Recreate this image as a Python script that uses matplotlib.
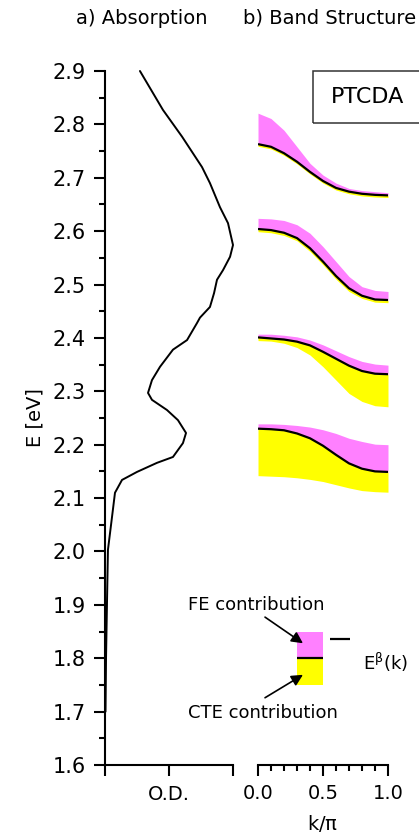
import matplotlib
matplotlib.use("Agg")
import matplotlib.pyplot as plt
from matplotlib.patches import Rectangle
from matplotlib.ticker import MultipleLocator

plt.rcParams['font.family'] = ['DejaVu Sans']
plt.rcParams['mathtext.default'] = 'regular'

# ---- data: a) absorption (O.D. vs energy) ----
abs_E = [2.90, 2.827, 2.777, 2.72, 2.69, 2.645, 2.615, 2.574, 2.552, 2.527,
         2.509, 2.484, 2.458, 2.438, 2.428, 2.396, 2.378, 2.346, 2.321, 2.297,
         2.284, 2.265, 2.246, 2.222, 2.203, 2.177, 2.166, 2.149, 2.134, 2.110,
         2.065, 2.003, 1.91, 1.80, 1.70]
abs_OD = [0.273, 0.453, 0.602, 0.758, 0.820, 0.898, 0.961, 1.0, 0.977, 0.922,
          0.875, 0.852, 0.820, 0.742, 0.719, 0.641, 0.531, 0.430, 0.367, 0.336,
          0.367, 0.484, 0.570, 0.633, 0.609, 0.531, 0.406, 0.25, 0.133, 0.078,
          0.055, 0.023, 0.016, 0.008, 0.004]

# ---- data: b) band structure ----
k = [0.0, 0.1, 0.2, 0.3, 0.4, 0.5, 0.6, 0.7, 0.8, 0.9, 1.0]

band1_top = [2.821, 2.811, 2.789, 2.758, 2.727, 2.705, 2.690, 2.680, 2.676, 2.674, 2.672]
band1_E   = [2.763, 2.758, 2.746, 2.730, 2.711, 2.694, 2.681, 2.674, 2.670, 2.668, 2.667]
band1_bot = [2.759, 2.754, 2.742, 2.726, 2.707, 2.690, 2.677, 2.670, 2.666, 2.664, 2.663]

band2_top = [2.624, 2.623, 2.620, 2.612, 2.596, 2.571, 2.543, 2.515, 2.496, 2.489, 2.487]
band2_E   = [2.604, 2.602, 2.597, 2.587, 2.568, 2.543, 2.516, 2.493, 2.479, 2.472, 2.471]
band2_bot = [2.599, 2.597, 2.592, 2.582, 2.562, 2.537, 2.510, 2.487, 2.474, 2.467, 2.466]

band3_top = [2.407, 2.407, 2.405, 2.402, 2.396, 2.387, 2.376, 2.365, 2.356, 2.351, 2.349]
band3_E   = [2.401, 2.399, 2.397, 2.393, 2.386, 2.374, 2.361, 2.348, 2.338, 2.333, 2.332]
band3_bot = [2.395, 2.394, 2.390, 2.382, 2.368, 2.346, 2.321, 2.296, 2.281, 2.273, 2.271]

band4_top = [2.239, 2.239, 2.238, 2.236, 2.233, 2.228, 2.221, 2.212, 2.206, 2.201, 2.200]
band4_E   = [2.230, 2.229, 2.227, 2.221, 2.212, 2.198, 2.181, 2.165, 2.155, 2.150, 2.149]
band4_bot = [2.142, 2.141, 2.140, 2.138, 2.135, 2.131, 2.125, 2.119, 2.114, 2.112, 2.111]

bands = [(band1_top, band1_E, band1_bot),
         (band2_top, band2_E, band2_bot),
         (band3_top, band3_E, band3_bot),
         (band4_top, band4_E, band4_bot)]

# legend key
key_k = [0.3, 0.5]
key_top, key_E, key_bot = 1.85, 1.80, 1.75

PINK = '#FF80FF'
YELLOW = '#FFFF00'
W, H = 419, 832

fig = plt.figure(figsize=(W / 100, H / 100), dpi=100)

def fx(px):
    return px / W

def fy(py):
    return 1 - py / H

y_bottom, y_top = 765, 71
ax1 = fig.add_axes([fx(105), fy(y_bottom), fx(233) - fx(105), fy(y_top) - fy(y_bottom)])
ax2 = fig.add_axes([fx(258), fy(y_bottom), fx(388) - fx(258), fy(y_top) - fy(y_bottom)])

LW = 1.5
for ax in (ax1, ax2):
    ax.set_ylim(1.6, 2.9)
    ax.patch.set_alpha(0)
    for s in ('top', 'right'):
        ax.spines[s].set_visible(False)
    for s in ('left', 'bottom'):
        ax.spines[s].set_linewidth(LW)
    ax.tick_params(which='major', direction='out', length=8, width=LW, labelsize=14, pad=6)
    ax.tick_params(which='minor', direction='out', length=4.3, width=LW)

# ---- panel a ----
ax1.plot(abs_OD, abs_E, color='black', lw=1.4, clip_on=False,
         solid_joinstyle='round', solid_capstyle='round')
ax1.set_xlim(0, 1)
ax1.set_xticks([0, 0.5, 1.0])
ax1.set_xticklabels([])
ax1.yaxis.set_minor_locator(MultipleLocator(0.05))
ax1.set_yticks([1.6 + 0.1 * i for i in range(14)])
ax1.set_yticklabels([f"{1.6 + 0.1 * i:.1f}" for i in range(14)])
ax1.tick_params(axis='y', which='major', labelsize=15)

# ---- panel b ----
ax2.set_xlim(0, 1)
ax2.spines['left'].set_visible(False)
ax2.set_yticks([])
ax2.xaxis.set_minor_locator(MultipleLocator(0.1))
ax2.set_xticks([0.0, 0.5, 1.0])
ax2.set_xticklabels(['0.0', '0.5', '1.0'])

for top, mid, bot in bands:
    ax2.fill_between(k, bot, mid, color=YELLOW, lw=0)
    ax2.fill_between(k, mid, top, color=PINK, lw=0)
    ax2.plot(k, mid, color='black', lw=1.6, solid_capstyle='butt',
             solid_joinstyle='round')

# key
ax2.fill_between(key_k, [key_bot] * 2, [key_E] * 2, color=YELLOW, lw=0)
ax2.fill_between(key_k, [key_E] * 2, [key_top] * 2, color=PINK, lw=0)
ax2.plot(key_k, [key_E] * 2, color='black', lw=1.6, solid_capstyle='butt')
ax2.plot([0.554, 0.708], [1.836, 1.836], color='black', lw=1.6, solid_capstyle='butt',
         clip_on=False)
ax2.text(0.81, 1.793, r'E$^{\beta}$(k)', fontsize=13, ha='left', va='center', clip_on=False)

ax2.text(-0.015, 1.900, 'FE contribution', fontsize=13, ha='center', va='center')
ax2.text(0.04, 1.698, 'CTE contribution', fontsize=13, ha='center', va='center')
arrow = dict(arrowstyle='-|>', color='black', lw=1.2, mutation_scale=17,
             shrinkA=0, shrinkB=0)
ax2.annotate('', xy=(0.346, 1.828), xytext=(0.054, 1.877), arrowprops=arrow,
             annotation_clip=False)
ax2.annotate('', xy=(0.346, 1.769), xytext=(0.054, 1.726), arrowprops=arrow,
             annotation_clip=False)

# PTCDA box
ax2.add_patch(Rectangle((0.423, 2.803), 1.2, 0.097, fill=False, ec='#333333', lw=1.1,
                        clip_on=False))
ax2.text(0.846, 2.851, 'PTCDA', fontsize=16, ha='center', va='center')

# labels
fig.text(fx(142), fy(18), 'a) Absorption', fontsize=14, ha='center', va='center')
fig.text(fx(330), fy(18), 'b) Band Structure', fontsize=14, ha='center', va='center')
fig.text(fx(35), fy(418), 'E [eV]', fontsize=14, rotation=90, ha='center', va='center')
fig.text(fx(169), fy(795), 'O.D.', fontsize=14, ha='center', va='center')
fig.text(fx(323), fy(823), r'k/$\pi$', fontsize=14, ha='center', va='center')

fig.savefig('out.png', dpi=100)
